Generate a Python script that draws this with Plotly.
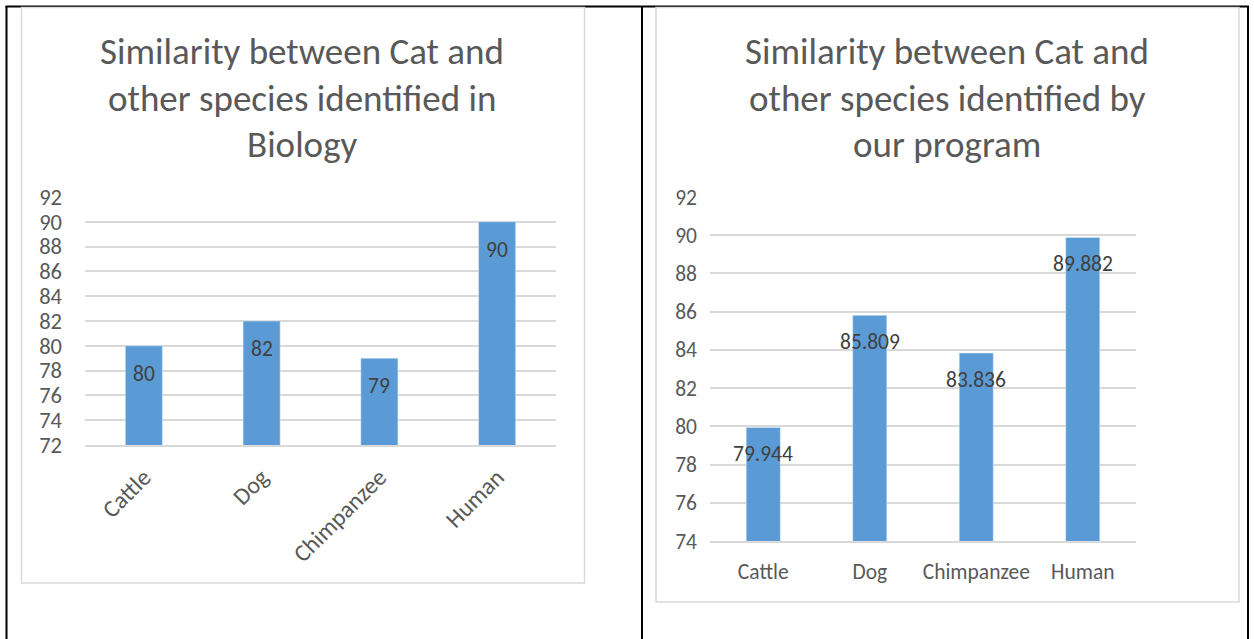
import plotly.graph_objects as go

categories = ["Cattle", "Dog", "Chimpanzee", "Human"]
biology_values = [80, 82, 79, 90]
program_values = [79.944, 85.809, 83.836, 89.882]
left_title_lines = ["Similarity between Cat and", "other species identified in", "Biology"]
right_title_lines = ["Similarity between Cat and", "other species identified by", "our program"]

W, H = 1254, 639
FONT = "Carlito, Lato, sans-serif"
BAR = "#5B9BD5"
GRID = "#D9D9D9"
TXT = "#595959"
LBL = "#404040"
FS = 21.5

def px(x):
    return x / W

def py(y):
    return 1 - y / H

fig = go.Figure()
fig.add_trace(go.Bar(x=categories, y=biology_values, marker_color=BAR, width=0.315,
                     xaxis="x", yaxis="y", showlegend=False, hoverinfo="x+y"))
fig.add_trace(go.Bar(x=categories, y=program_values, marker_color=BAR, width=0.32,
                     xaxis="x2", yaxis="y2", showlegend=False, hoverinfo="x+y"))

annotations = []
# data labels
for c, v in zip(categories, biology_values):
    annotations.append(dict(x=c, y=v, xref="x", yref="y", text=str(v), showarrow=False,
                            yshift=-28, font=dict(family=FONT, size=FS, color=LBL)))
for c, v in zip(categories, program_values):
    annotations.append(dict(x=c, y=v, xref="x2", yref="y2", text=f"{v:.3f}", showarrow=False,
                            yshift=-27, font=dict(family=FONT, size=FS, color=LBL)))
# titles
for i, (l, r) in enumerate(zip(left_title_lines, right_title_lines)):
    yc = 52 + 46.5 * i
    annotations.append(dict(x=px(302), y=py(yc), xref="paper", yref="paper", text=l, showarrow=False,
                            xanchor="center", yanchor="middle", font=dict(family=FONT, size=37, color=TXT)))
    annotations.append(dict(x=px(947), y=py(yc), xref="paper", yref="paper", text=r, showarrow=False,
                            xanchor="center", yanchor="middle", font=dict(family=FONT, size=37, color=TXT)))

shapes = [
    # table borders
    dict(type="line", xref="paper", yref="paper", x0=px(5.5), x1=px(1249), y0=py(6.5), y1=py(6.5),
         line=dict(color="black", width=2)),
    dict(type="line", xref="paper", yref="paper", x0=px(6.5), x1=px(6.5), y0=py(6), y1=py(640),
         line=dict(color="black", width=2)),
    dict(type="line", xref="paper", yref="paper", x0=px(642), x1=px(642), y0=py(6), y1=py(640),
         line=dict(color="black", width=2)),
    dict(type="line", xref="paper", yref="paper", x0=px(1248), x1=px(1248), y0=py(6), y1=py(640),
         line=dict(color="black", width=2)),
    # chart boxes
    dict(type="rect", xref="paper", yref="paper", x0=px(21.5), x1=px(584.5), y0=py(7.5), y1=py(583),
         line=dict(color=GRID, width=1.5)),
    dict(type="rect", xref="paper", yref="paper", x0=px(656), x1=px(1239), y0=py(7.5), y1=py(602),
         line=dict(color=GRID, width=1.5)),
]

fig.update_layout(
    width=W, height=H,
    margin=dict(l=0, r=0, t=0, b=0, autoexpand=False),
    paper_bgcolor="white", plot_bgcolor="white",
    font=dict(family=FONT, color=TXT),
    annotations=annotations, shapes=shapes,
    xaxis=dict(domain=[px(85), px(556)], showgrid=False, showline=True, linecolor=GRID, linewidth=1.5,
               tickangle=-45, tickfont=dict(size=24, color=TXT), ticks="", ticklabelstandoff=7,
               fixedrange=True, automargin=False),
    yaxis=dict(domain=[py(445), py(197)], range=[72, 92], dtick=2, showgrid=True, gridcolor=GRID,
               gridwidth=1.5, zeroline=False, showline=False, tickfont=dict(size=22.5, color=TXT),
               ticks="", ticklabelstandoff=22, anchor="x", automargin=False),
    xaxis2=dict(domain=[px(710), px(1136)], showgrid=False, showline=True, linecolor=GRID, linewidth=1.5,
                tickangle=0, tickfont=dict(size=FS, color=TXT), ticks="", ticklabelstandoff=10,
                anchor="y2", automargin=False),
    yaxis2=dict(domain=[py(541), py(197)], range=[74, 92], dtick=2, showgrid=True, gridcolor=GRID,
                gridwidth=1.5, zeroline=False, showline=False, tickfont=dict(size=FS, color=TXT),
                ticks="", ticklabelstandoff=12, anchor="x2", automargin=False),
)

fig.write_html("out.html")
